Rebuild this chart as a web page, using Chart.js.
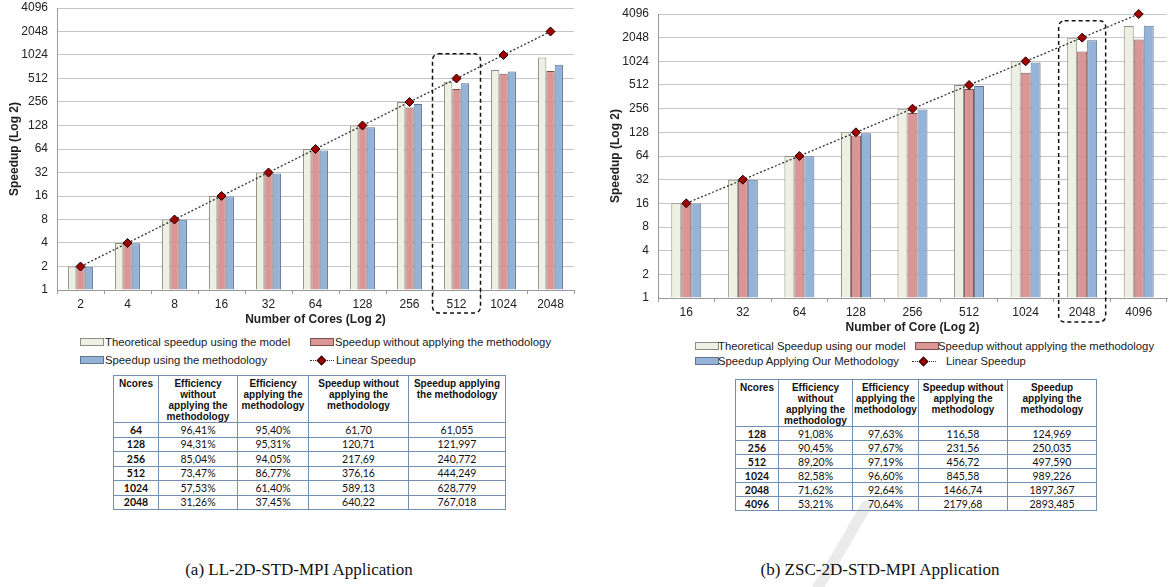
<!DOCTYPE html>
<html>
<head>
<meta charset="utf-8">
<script src="https://cdn.jsdelivr.net/npm/chart.js@4.4.1/dist/chart.umd.min.js"></script>
<style>
  body { margin: 0; background: #fff; font-family: "Liberation Sans", Arial, sans-serif; }
  #page { position: relative; width: 1169px; height: 587px; overflow: hidden; background: #fff; }
  canvas { position: absolute; }
  .leg { position: absolute; font-size: 11.3px; color: #1a1a1a; white-space: nowrap; line-height: 14px; }
  .sw { position: absolute; width: 22px; height: 6px; border: 1px solid; }
  .lin { position: absolute; width: 24px; height: 0; border-top: 1px dotted #333; }
  .dia { position: absolute; width: 5px; height: 5px; background: #a00000; border: 1px solid #200000; transform: rotate(45deg); }
  table.tb { position: absolute; border-collapse: collapse; table-layout: fixed; }
  table.tb td { border: 1px solid #7390b0; padding: 0; text-align: center; color: #111; }
  table.tb tr.hd td { font: bold 10px "Liberation Sans", Arial, sans-serif; line-height: 11px; vertical-align: top; padding-top: 2px; }
  table.tb tr.rw td { font: 10.5px Lato, "Liberation Sans", sans-serif; }
  table.tb tr.rw td.c0 { font-weight: bold; }
  .cap { position: absolute; font: 17px "Liberation Serif", "Times New Roman", serif; color: #111; white-space: nowrap; transform: translateX(-50%); }
  #wm { position: absolute; left: 0; top: 0; }
</style>
</head>
<body>
<div id="page">
  <svg id="wm" width="1169" height="587"><path d="M866 506 C852 530 838 556 818 587" stroke="#ebebeb" stroke-width="11" fill="none" stroke-linecap="round"/></svg>
  <canvas id="chartA" width="580" height="330" style="left:0;top:0"></canvas>
  <canvas id="chartB" width="569" height="338" style="left:600px;top:0"></canvas>
  <div id="legends"></div>
  <div id="tables"></div>
  <div class="cap" style="left:299px;top:560px">(a) LL-2D-STD-MPI Application</div>
  <div class="cap" style="left:880px;top:560px">(b) ZSC-2D-STD-MPI Application</div>
</div>
<script>
// Sumbu y (log 2)
var yTicks = [1, 2, 4, 8, 16, 32, 64, 128, 256, 512, 1024, 2048, 4096];

// (a) LL-2D-STD-MPI
var coresA = ["2", "4", "8", "16", "32", "64", "128", "256", "512", "1024", "2048"];
var theoreticalA = [2, 4, 8, 16, 32, 64, 128, 256, 464, 657, 948];
var withoutA = [1.98, 3.96, 7.9, 15.7, 31.3, 61.7, 120.71, 217.69, 376.16, 589.13, 640.22];
var withA = [1.99, 3.98, 7.95, 15.8, 31.0, 61.055, 121.997, 240.772, 444.249, 628.779, 767.018];
var linearA = [2, 4, 8, 16, 32, 64, 128, 256, 512, 1024, 2048];

// (b) ZSC-2D-STD-MPI
var coresB = ["16", "32", "64", "128", "256", "512", "1024", "2048", "4096"];
var theoreticalB = [16, 32, 64, 128, 256, 512, 1024, 2048, 2880];
var withoutB = [15.9, 31.5, 62.5, 116.58, 226, 456.72, 734, 1365, 1940];
var withB = [15.95, 31.9, 63.5, 124.969, 250.035, 497.59, 989.226, 1897.367, 2893.485];
var linearB = [16, 32, 64, 128, 256, 512, 1024, 2048, 4096];

// Tabel
var tableHead = ["Ncores", "Efficiency<br>without<br>applying the<br>methodology", "Efficiency<br>applying the<br>methodology", "Speedup without<br>applying the<br>methodology"];
var tableHeadA5 = "Speedup applying<br>the methodology";
var tableHeadB5 = "Speedup<br>applying the<br>methodology";
var tCoresA = ["64", "128", "256", "512", "1024", "2048"];
var tEffWithoutA = ["96,41%", "94,31%", "85,04%", "73,47%", "57,53%", "31,26%"];
var tEffWithA = ["95,40%", "95,31%", "94,05%", "86,77%", "61,40%", "37,45%"];
var tSpWithoutA = ["61,70", "120,71", "217,69", "376,16", "589,13", "640,22"];
var tSpWithA = ["61,055", "121,997", "240,772", "444,249", "628,779", "767,018"];
var tCoresB = ["128", "256", "512", "1024", "2048", "4096"];
var tEffWithoutB = ["91,08%", "90,45%", "89,20%", "82,58%", "71,62%", "53,21%"];
var tEffWithB = ["97,63%", "97,67%", "97,19%", "96,60%", "92,64%", "70,64%"];
var tSpWithoutB = ["116,58", "231,56", "456,72", "845,58", "1466,74", "2179,68"];
var tSpWithB = ["124,969", "250,035", "497,590", "989,226", "1897,367", "2893,485"];

var fontTick = { family: "'Liberation Sans', Arial", size: 12 };

// Plugin kotak putus-putus di sekitar satu kategori
var boxPlugin = {
  id: "dashBox",
  afterDraw: function (chart, args, opts) {
    var x = chart.scales.x, y = chart.scales.y, ctx = chart.ctx;
    var cx = x.getPixelForValue(opts.index);
    var top = y.getPixelForValue(opts.top);
    var bottom = y.bottom + opts.below;
    ctx.save();
    ctx.strokeStyle = "#111";
    ctx.lineWidth = 1.5;
    ctx.setLineDash([4, 3]);
    ctx.beginPath();
    ctx.roundRect(cx - opts.half, top, opts.half * 2, bottom - top, 6);
    ctx.stroke();
    ctx.restore();
  }
};

function makeChart(id, cores, theo, without, withM, linear, cfg) {
  var ctx = document.getElementById(id).getContext("2d");
  return new Chart(ctx, {
    type: "bar",
    plugins: [boxPlugin],
    data: {
      labels: cores,
      datasets: [
        { type: "line", label: "Linear Speedup", data: linear, order: 0, clip: false,
          borderColor: "#333", borderWidth: 1.3, borderDash: [2, 2], fill: false,
          pointStyle: "rectRot", pointRadius: 4.5, pointBackgroundColor: "#a00000",
          pointBorderColor: "#200000", pointBorderWidth: 1 },
        { label: "Theoretical", data: theo, order: 1, base: 1,
          backgroundColor: "#edf0e2", borderColor: "#8c8c80", borderWidth: 1 },
        { label: "Without", data: without, order: 1, base: 1,
          backgroundColor: "#d99694", borderColor: "#7f4f4e", borderWidth: 1 },
        { label: "With", data: withM, order: 1, base: 1,
          backgroundColor: "#95b3d7", borderColor: "#5f7593", borderWidth: 1 },
      ],
    },
    options: {
      responsive: false,
      animation: false,
      devicePixelRatio: 1,
      layout: { autoPadding: false, padding: { top: cfg.padTop, right: cfg.padRight, left: 0, bottom: 0 } },
      datasets: { bar: { categoryPercentage: 0.53, barPercentage: 1.0 } },
      scales: {
        x: {
          afterFit: function (s) { s.height = 40; },
          grid: { offset: true, drawOnChartArea: false, tickLength: 4, color: "#999" },
          border: { color: "#999" },
          ticks: { font: fontTick, color: "#222", padding: 3, maxRotation: 0, autoSkip: false },
          title: { display: true, text: cfg.xTitle, color: "#222",
            font: { family: "'Liberation Sans Narrow', 'Liberation Sans', Arial", size: 12, weight: "bold" },
            padding: { top: 0, bottom: 3 } },
        },
        y: {
          type: "logarithmic",
          min: 1,
          max: 4096,
          afterFit: function (s) { s.width = cfg.yWidth; },
          afterBuildTicks: function (s) { s.ticks = yTicks.map(function (v) { return { value: v }; }); },
          grid: { drawTicks: true, tickLength: 9, tickColor: "rgba(0,0,0,0)", color: "#c6c6c6" },
          border: { color: "#999" },
          ticks: { font: fontTick, color: "#222", padding: 0, callback: function (v) { return String(v); } },
          title: { display: true, text: "Speedup (Log 2)", color: "#222",
            font: { family: "'Liberation Sans', Arial", size: 12, weight: "bold" },
            padding: { top: cfg.yTitlePad, bottom: 0 } },
        },
      },
      plugins: {
        legend: { display: false },
        tooltip: { enabled: false },
        dashBox: cfg.box,
      },
    },
  });
}

makeChart("chartA", coresA, theoreticalA, withoutA, withA, linearA, {
  padTop: 8, padRight: 6, yWidth: 57, yTitlePad: 7, xTitle: "Number of Cores (Log 2)",
  box: { index: 8, top: 1060, below: 23, half: 24 },
});
makeChart("chartB", coresB, theoreticalB, withoutB, withB, linearB, {
  padTop: 14, padRight: 2, yWidth: 58, yTitlePad: 8.5, xTitle: "Number of Core (Log 2)",
  box: { index: 7, top: 3370, below: 24, half: 23.5 },
});

// Legenda (HTML)
var legendItems = [
  { x: 80, y: 342, kind: "sw", fill: "#edf0e2", line: "#8c8c80", text: "Theoretical speedup using the model", tx: 105 },
  { x: 310, y: 342, kind: "sw", fill: "#d99694", line: "#7f4f4e", text: "Speedup without applying the methodology", tx: 335 },
  { x: 80, y: 360, kind: "sw", fill: "#95b3d7", line: "#5f7593", text: "Speedup using the methodology", tx: 105 },
  { x: 310, y: 360, kind: "lin", text: "Linear Speedup", tx: 336 },
  { x: 695, y: 346, kind: "sw", fill: "#edf0e2", line: "#8c8c80", text: "Theoretical Speedup using our model", tx: 718 },
  { x: 915, y: 346, kind: "sw", fill: "#d99694", line: "#7f4f4e", text: "Speedup without applying the methodology", tx: 938 },
  { x: 695, y: 361, kind: "sw", fill: "#95b3d7", line: "#5f7593", text: "Speedup Applying Our Methodology", tx: 718 },
  { x: 912, y: 361, kind: "lin", text: "Linear Speedup", tx: 946 },
];
var legHtml = "";
legendItems.forEach(function (it) {
  if (it.kind === "sw") {
    legHtml += '<div class="sw" style="left:' + it.x + 'px;top:' + (it.y - 4) + 'px;background:' + it.fill + ';border-color:' + it.line + '"></div>';
  } else {
    legHtml += '<div class="lin" style="left:' + it.x + 'px;top:' + it.y + 'px"></div>';
    legHtml += '<div class="dia" style="left:' + (it.x + 8) + 'px;top:' + (it.y - 3) + 'px"></div>';
  }
  legHtml += '<div class="leg" style="left:' + it.tx + 'px;top:' + (it.y - 7) + 'px">' + it.text + "</div>";
});
document.getElementById("legends").innerHTML = legHtml;

// Tabel (HTML)
function makeTable(left, top, widths, headH, rowH, head5, cols) {
  var h = '<table class="tb" style="left:' + left + 'px;top:' + top + 'px">';
  h += "<colgroup>" + widths.map(function (w) { return '<col style="width:' + w + 'px">'; }).join("") + "</colgroup>";
  h += '<tr class="hd" style="height:' + headH + 'px">';
  tableHead.concat([head5]).forEach(function (t) { h += "<td>" + t + "</td>"; });
  h += "</tr>";
  for (var r = 0; r < cols[0].length; r++) {
    h += '<tr class="rw" style="height:' + rowH + 'px">';
    cols.forEach(function (c, i) { h += '<td class="c' + i + '">' + c[r] + "</td>"; });
    h += "</tr>";
  }
  return h + "</table>";
}
document.getElementById("tables").innerHTML =
  makeTable(113, 375, [45, 79, 71, 100, 97], 47, 14.5, tableHeadA5, [tCoresA, tEffWithoutA, tEffWithA, tSpWithoutA, tSpWithA]) +
  makeTable(735, 379, [43, 74, 66, 89, 89], 45, 14, tableHeadB5, [tCoresB, tEffWithoutB, tEffWithB, tSpWithoutB, tSpWithB]);
</script>
</body>
</html>
